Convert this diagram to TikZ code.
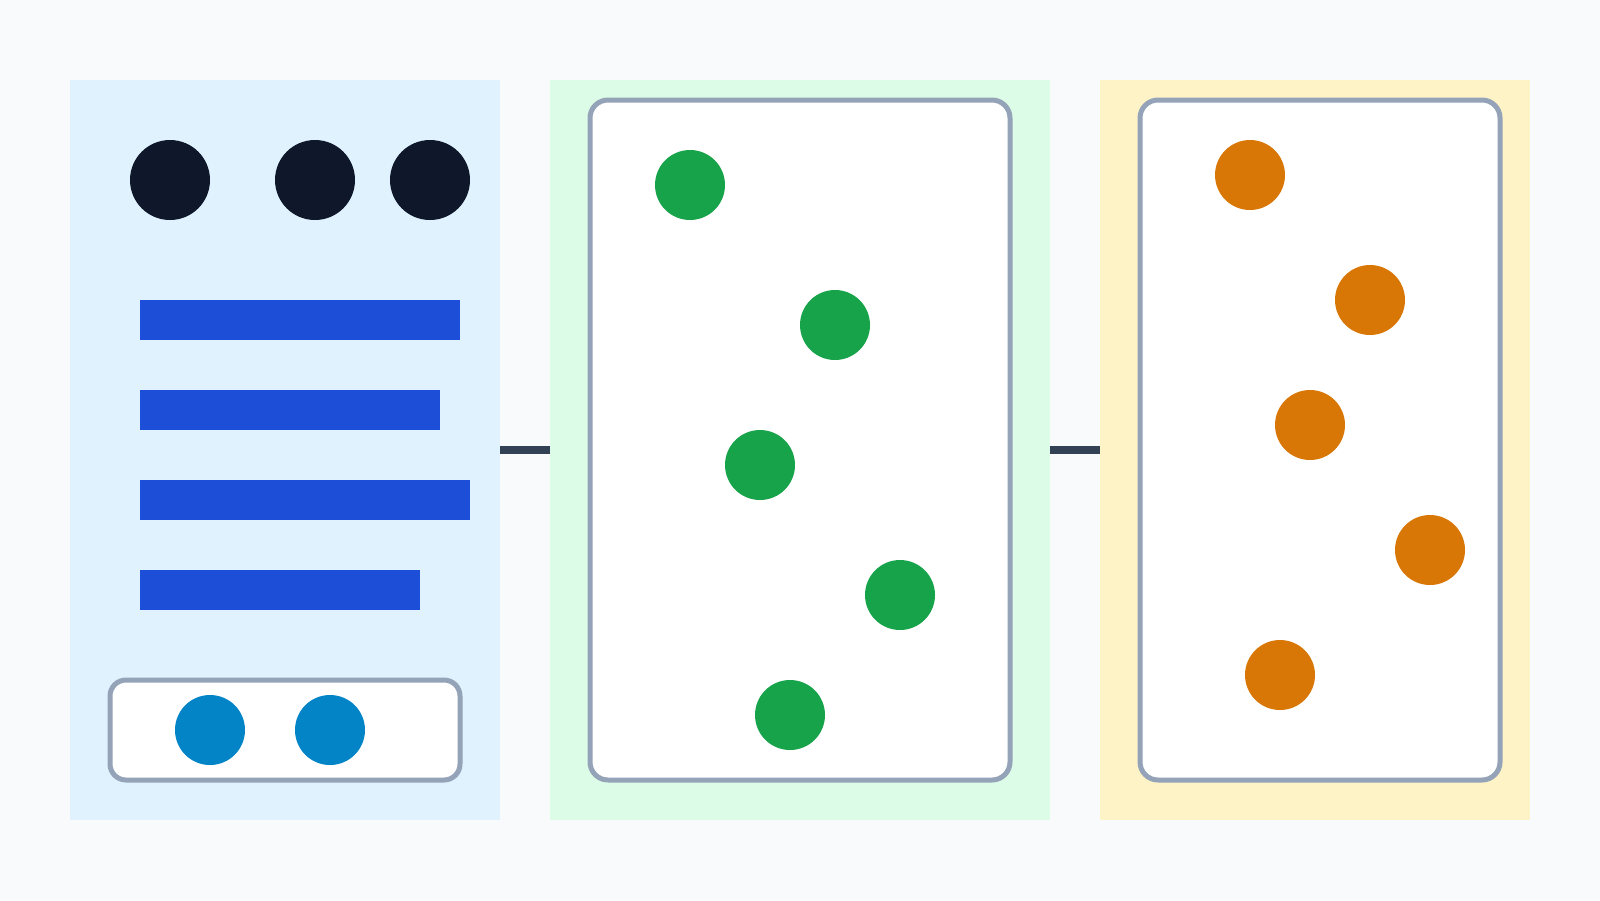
\documentclass[tikz,border=0pt]{standalone}
\definecolor{bgc}{HTML}{F8FAFC}
\definecolor{panelblue}{HTML}{E0F2FE}
\definecolor{panelgreen}{HTML}{DCFCE7}
\definecolor{panelamber}{HTML}{FEF3C7}
\definecolor{darkdot}{HTML}{0F172A}
\definecolor{barblue}{HTML}{1D4ED8}
\definecolor{skydot}{HTML}{0284C7}
\definecolor{greendot}{HTML}{16A34A}
\definecolor{orangedot}{HTML}{D97706}
\definecolor{framegray}{HTML}{94A3B8}
\definecolor{connc}{HTML}{334155}
\begin{document}
\begin{tikzpicture}[x=1pt,y=-1pt,
  panel/.style={rectangle,draw=none,inner sep=0pt,outer sep=0pt},
  frame/.style={rectangle,draw=framegray,line width=5pt,fill=white,rounded corners=18pt,inner sep=0pt,outer sep=0pt},
  bar/.style={rectangle,fill=barblue,draw=none,inner sep=0pt,outer sep=0pt,anchor=north west,minimum height=40pt},
  bigdot/.style={circle,fill=darkdot,draw=none,inner sep=0pt,minimum size=80pt},
  dot/.style={circle,draw=none,inner sep=0pt,minimum size=70pt},
  conn/.style={draw=connc,line width=8pt}
]
\useasboundingbox (0,0) rectangle (1600,900);
\fill[bgc] (0,0) rectangle (1600,900);

% panels
\node[panel,fill=panelblue,minimum width=430pt,minimum height=740pt] (p1) at (285,450) {};
\node[panel,fill=panelgreen,minimum width=500pt,minimum height=740pt] (p2) at (800,450) {};
\node[panel,fill=panelamber,minimum width=430pt,minimum height=740pt] (p3) at (1315,450) {};

% connectors
\draw[conn] (p1.east) -- (p2.west);
\draw[conn] (p2.east) -- (p3.west);

% left panel content
\node[bigdot] (d1) at (170,180) {};
\node[bigdot] (d2) at (315,180) {};
\node[bigdot] (d3) at (430,180) {};
\node[bar,minimum width=320pt] (b1) at (140,300) {};
\node[bar,minimum width=300pt] (b2) at (140,390) {};
\node[bar,minimum width=330pt] (b3) at (140,480) {};
\node[bar,minimum width=280pt] (b4) at (140,570) {};
\node[frame,rounded corners=16pt,minimum width=350pt,minimum height=100pt] (f1) at (285,730) {};
\node[dot,fill=skydot] (s1) at (210,730) {};
\node[dot,fill=skydot] (s2) at (330,730) {};

% middle panel content
\node[frame,minimum width=420pt,minimum height=680pt] (f2) at (800,440) {};
\node[dot,fill=greendot] (g1) at (690,185) {};
\node[dot,fill=greendot] (g2) at (835,325) {};
\node[dot,fill=greendot] (g3) at (760,465) {};
\node[dot,fill=greendot] (g4) at (900,595) {};
\node[dot,fill=greendot] (g5) at (790,715) {};

% right panel content
\node[frame,minimum width=360pt,minimum height=680pt] (f3) at (1320,440) {};
\node[dot,fill=orangedot] (o1) at (1250,175) {};
\node[dot,fill=orangedot] (o2) at (1370,300) {};
\node[dot,fill=orangedot] (o3) at (1310,425) {};
\node[dot,fill=orangedot] (o4) at (1430,550) {};
\node[dot,fill=orangedot] (o5) at (1280,675) {};
\end{tikzpicture}
\end{document}
